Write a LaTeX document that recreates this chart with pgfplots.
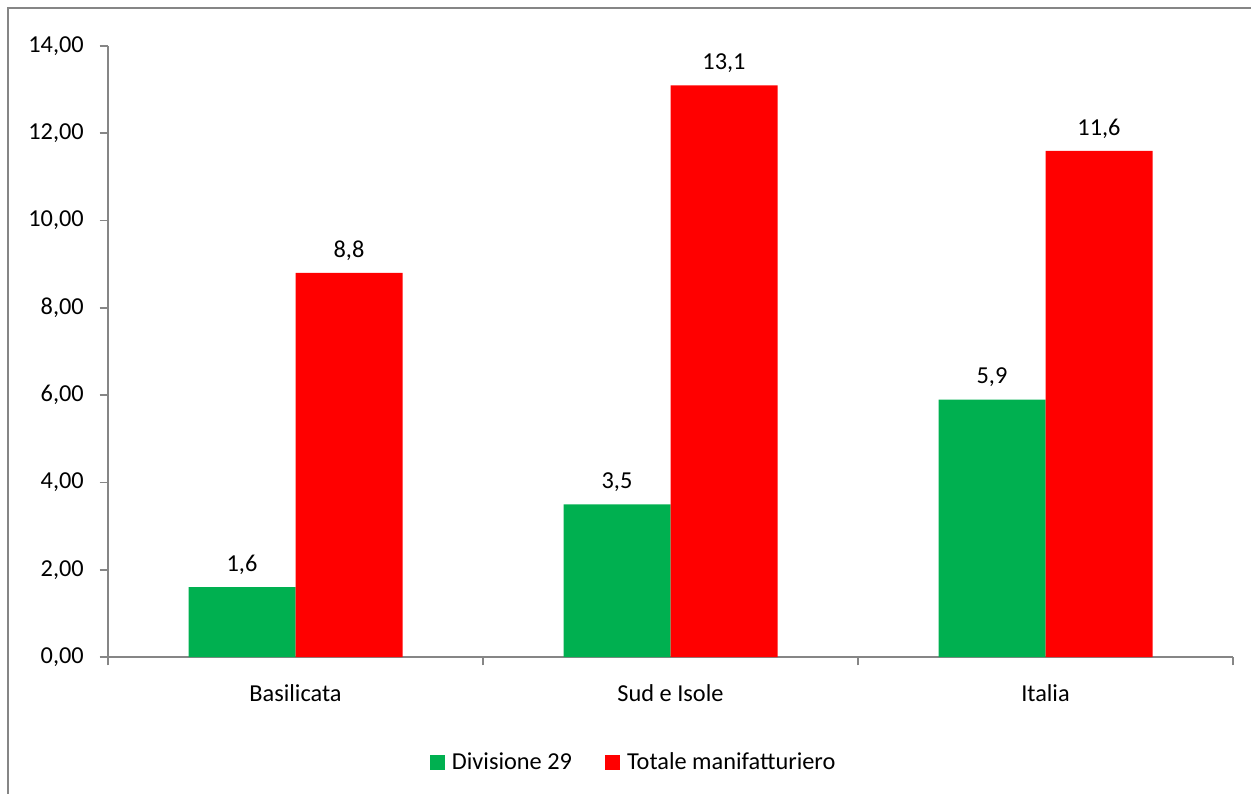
\documentclass[border=0pt]{standalone}
\usepackage{pgfplots}
\pgfplotsset{compat=1.18}
\usepackage{fontspec}
\setmainfont{Carlito}
\definecolor{axisgray}{RGB}{134,134,134}
\definecolor{divgreen}{RGB}{0,176,80}
\definecolor{totred}{RGB}{255,0,0}

\pgfplotstableread{
x div tot
0 1.6 8.8
1 3.5 13.1
2 5.9 11.6
}\datatable

\begin{document}
\begin{tikzpicture}[x=0.6pt,y=0.6pt]
\useasboundingbox (-108,-136) rectangle (1143,657);
\draw[axisgray, line width=1pt] (-100,-140) -- (-100,649) -- (1150,649);
\begin{axis}[
  at={(0,0)}, anchor=south west,
  scale only axis,
  width=675pt, height=366.6pt,
  xmin=-0.5, xmax=2.5,
  ymin=0, ymax=14,
  ytick={0,2,...,14},
  xtick={0,1,2},
  xticklabels={Basilicata, Sud e Isole, Italia},
  minor xtick={-0.5,0.5,1.5,2.5},
  major x tick style={draw=none},
  minor x tick style={axisgray, line width=1pt},
  y tick style={axisgray, line width=1pt},
  tick align=outside,
  minor tick length=5pt,
  major tick length=5pt,
  axis x line*=bottom,
  axis y line*=left,
  axis line style={axisgray, line width=1pt},
  separate axis lines,
  every outer x axis line/.append style={-},
  every outer y axis line/.append style={-},
  tick label style={font=\fontsize{14.6}{16}\selectfont, text=black},
  yticklabel style={xshift=-6pt},
  xticklabel style={yshift=-8pt},
  /pgf/number format/.cd, use comma, fixed, fixed zerofill, precision=2, assume math mode=true,
  /pgfplots/.cd,
  ybar=0pt,
  bar width=64.2pt,
  nodes near coords,
  every node near coord/.append style={font=\fontsize{14.6}{16}\selectfont, text=black, yshift=4pt,
    /pgf/number format/.cd, use comma, fixed, fixed zerofill, precision=1, assume math mode=true},
  legend style={at={(0.468,-0.172)}, anchor=center, draw=none, fill=none,
    legend columns=2, font=\fontsize{14.6}{16}\selectfont,
    /tikz/every even column/.append style={column sep=18pt}},
  legend image code/.code={\fill[#1] (0pt,-4.5pt) rectangle (9pt,4.5pt); \path (11pt,0pt);},
]
\addplot[fill=divgreen, draw=none] table[x=x, y=div] {\datatable};
\addlegendentry{Divisione 29}
\addplot[fill=totred, draw=none] table[x=x, y=tot] {\datatable};
\addlegendentry{Totale manifatturiero}
\end{axis}
\end{tikzpicture}
\end{document}
